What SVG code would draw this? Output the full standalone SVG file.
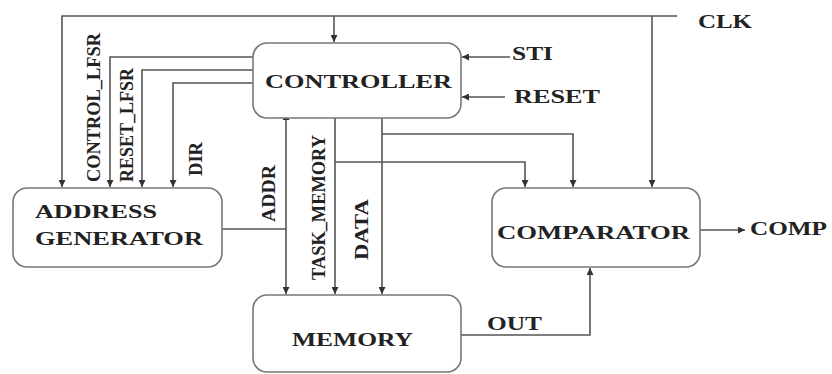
<svg xmlns="http://www.w3.org/2000/svg" width="832" height="374" viewBox="0 0 832 374">
<defs>
<marker id="ah" viewBox="0 0 10 10" refX="10" refY="5" markerWidth="7" markerHeight="7" markerUnits="userSpaceOnUse" orient="auto">
<path d="M0,0 L10,5 L0,10 z" fill="#333"/>
</marker>
<marker id="ahs" viewBox="0 0 10 10" refX="0" refY="5" markerWidth="7" markerHeight="7" markerUnits="userSpaceOnUse" orient="auto-start-reverse">
<path d="M0,0 L10,5 L0,10 z" fill="#333"/>
</marker>
<style>
.box{fill:#fff;stroke:#777;stroke-width:1.6}
.ln{fill:none;stroke:#555;stroke-width:1.6}
.t{font-family:"Liberation Serif","Times New Roman",serif;font-weight:bold;font-size:19px;fill:#222}
</style>
</defs>
<rect width="832" height="374" fill="#fff"/>
<g id="connectors">
<polyline class="ln" points="677,16 62,16 62,187" marker-end="url(#ah)"/>
<line class="ln" x1="334" y1="16" x2="334" y2="42" marker-end="url(#ah)"/>
<line class="ln" x1="652" y1="16" x2="652" y2="187" marker-end="url(#ah)"/>
<polyline class="ln" points="253,57 110,57 110,187" marker-end="url(#ah)"/>
<polyline class="ln" points="253,70 142,70 142,187" marker-end="url(#ah)"/>
<polyline class="ln" points="253,83 173,83 173,187" marker-end="url(#ah)"/>
<line class="ln" x1="510" y1="57" x2="462" y2="57" marker-end="url(#ah)"/>
<line class="ln" x1="505" y1="97" x2="462" y2="97" marker-end="url(#ah)"/>
<line class="ln" x1="286" y1="120" x2="286" y2="294" marker-start="url(#ahs)" marker-end="url(#ah)"/>
<line class="ln" x1="222" y1="229" x2="286" y2="229"/>
<line class="ln" x1="335" y1="118" x2="335" y2="294" marker-end="url(#ah)"/>
<line class="ln" x1="382" y1="118" x2="382" y2="294" marker-end="url(#ah)"/>
<polyline class="ln" points="335,162 525,162 525,187" marker-end="url(#ah)"/>
<polyline class="ln" points="382,134 573,134 573,187" marker-end="url(#ah)"/>
<polyline class="ln" points="461,335 590,335 590,268" marker-end="url(#ah)"/>
<line class="ln" x1="700" y1="230" x2="745" y2="230" marker-end="url(#ah)"/>
</g>
<g id="controller">
<rect class="box" x="253" y="43" width="208" height="75" rx="14"/>
<text class="t" x="265" y="88" textLength="187" lengthAdjust="spacingAndGlyphs">CONTROLLER</text>
</g>
<g id="address-generator">
<rect class="box" x="13" y="188" width="209" height="79" rx="14"/>
<text class="t" x="35" y="218" textLength="122" lengthAdjust="spacingAndGlyphs">ADDRESS</text>
<text class="t" x="35" y="245" textLength="168" lengthAdjust="spacingAndGlyphs">GENERATOR</text>
</g>
<g id="comparator">
<rect class="box" x="492" y="188" width="208" height="79" rx="14"/>
<text class="t" x="497" y="239" textLength="193" lengthAdjust="spacingAndGlyphs">COMPARATOR</text>
</g>
<g id="memory">
<rect class="box" x="253" y="295" width="208" height="77" rx="14"/>
<text class="t" x="292" y="346" textLength="121" lengthAdjust="spacingAndGlyphs">MEMORY</text>
</g>
<g id="labels">
<text class="t" x="698" y="28" textLength="54" lengthAdjust="spacingAndGlyphs">CLK</text>
<text class="t" x="512" y="60" textLength="41" lengthAdjust="spacingAndGlyphs">STI</text>
<text class="t" x="514" y="103" textLength="86" lengthAdjust="spacingAndGlyphs">RESET</text>
<text class="t" x="750" y="235" textLength="77" lengthAdjust="spacingAndGlyphs">COMP</text>
<text class="t" x="487" y="330" textLength="55" lengthAdjust="spacingAndGlyphs">OUT</text>
<text class="t" transform="translate(100,182) rotate(-90)" textLength="149" lengthAdjust="spacingAndGlyphs">CONTROL_LFSR</text>
<text class="t" transform="translate(133,182) rotate(-90)" textLength="114" lengthAdjust="spacingAndGlyphs">RESET_LFSR</text>
<text class="t" transform="translate(202,176) rotate(-90)" textLength="34" lengthAdjust="spacingAndGlyphs">DIR</text>
<text class="t" transform="translate(275,222) rotate(-90)" textLength="57" lengthAdjust="spacingAndGlyphs">ADDR</text>
<text class="t" transform="translate(325,280) rotate(-90)" textLength="145" lengthAdjust="spacingAndGlyphs">TASK_MEMORY</text>
<text class="t" transform="translate(368,260) rotate(-90)" textLength="61" lengthAdjust="spacingAndGlyphs">DATA</text>
</g>
</svg>
